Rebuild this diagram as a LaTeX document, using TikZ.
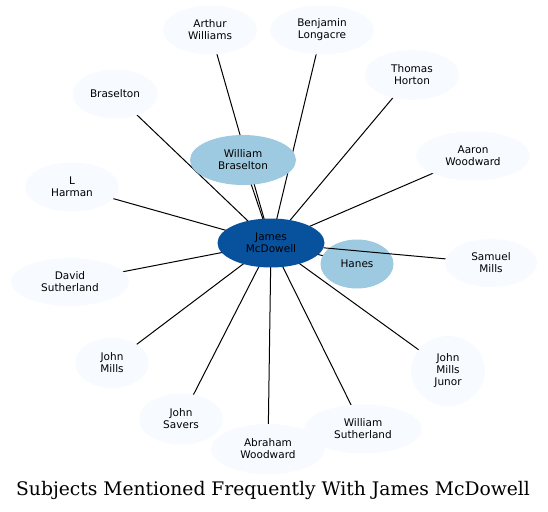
\documentclass[tikz,border=0pt]{standalone}
\usepackage{fontspec}
\setmainfont{DejaVu Serif}
\setsansfont{DejaVu Sans}
\usetikzlibrary{shapes.geometric,backgrounds}

\definecolor{hubblue}{HTML}{08519C}
\definecolor{midblue}{HTML}{9ECAE1}
\definecolor{paleblue}{HTML}{F7FBFF}

\begin{document}
\begin{tikzpicture}[
    font=\sffamily\fontsize{10.5}{12}\selectfont,
    x=1pt, y=-1pt,
    subject/.style={
        ellipse,
        fill=paleblue,
        align=center,
        inner sep=0pt
    },
    hub/.style={
        subject,
        fill=hubblue,
        minimum width=107pt,
        minimum height=49pt
    },
    near/.style={
        subject,
        fill=midblue
    },
    link/.style={
        draw=black,
        line width=1pt
    },
    title/.style={
        font=\rmfamily\fontsize{18.7}{20}\selectfont
    }
]

% ---------------------------------------------------------
% Canvas
% ---------------------------------------------------------
\path[use as bounding box] (0,0) rectangle (548,511);

% ---------------------------------------------------------
% Central subject and close relations
% ---------------------------------------------------------
\node[hub] (james) at (271,243) {James\\McDowell};

\node[near, minimum width=106pt, minimum height=50pt]
    (wbraselton) at (243,160) {William\\Braselton};
\node[near, minimum width=73pt, minimum height=49pt]
    (hanes) at (357,264) {Hanes};

% ---------------------------------------------------------
% Outer ring of subjects
% ---------------------------------------------------------
\node[subject, minimum width=94pt, minimum height=49pt]
    (arthur) at (210,30) {Arthur\\Williams};
\node[subject, minimum width=104pt, minimum height=49pt]
    (benjamin) at (322,30) {Benjamin\\Longacre};
\node[subject, minimum width=94pt, minimum height=50pt]
    (thomas) at (412,75) {Thomas\\Horton};
\node[subject, minimum width=114pt, minimum height=49pt]
    (aaron) at (473,156) {Aaron\\Woodward};
\node[subject, minimum width=92pt, minimum height=48pt]
    (samuel) at (491,263) {Samuel\\Mills};
\node[subject, minimum width=74pt, minimum height=70pt]
    (junor) at (448,371) {John\\Mills\\Junor};
\node[subject, minimum width=118pt, minimum height=49pt]
    (wsutherland) at (363,429) {William\\Sutherland};
\node[subject, minimum width=114pt, minimum height=50pt]
    (abraham) at (268,449) {Abraham\\Woodward};
\node[subject, minimum width=84pt, minimum height=51pt]
    (savers) at (181,419) {John\\Savers};
\node[subject, minimum width=74pt, minimum height=50pt]
    (jmills) at (112,363) {John\\Mills};
\node[subject, minimum width=118pt, minimum height=48pt]
    (david) at (70,282) {David\\Sutherland};
\node[subject, minimum width=94pt, minimum height=49pt]
    (harman) at (72,187) {L\\Harman};
\node[subject, minimum width=85pt, minimum height=49pt]
    (braselton) at (115,94) {Braselton};

% ---------------------------------------------------------
% Links (behind the nodes)
% ---------------------------------------------------------
\begin{scope}[on background layer]
\foreach \other in {wbraselton,hanes,arthur,benjamin,thomas,aaron,
    junor,wsutherland,abraham,savers,jmills,david,harman,braselton}
    \draw[link] (james.center) -- (\other.center);
\end{scope}

% this one runs over Hanes
\draw[link] (james) -- (samuel);

% ---------------------------------------------------------
% Caption
% ---------------------------------------------------------
\node[title, anchor=base] (caption) at (273,495)
    {Subjects Mentioned Frequently With James McDowell};

\end{tikzpicture}
\end{document}
